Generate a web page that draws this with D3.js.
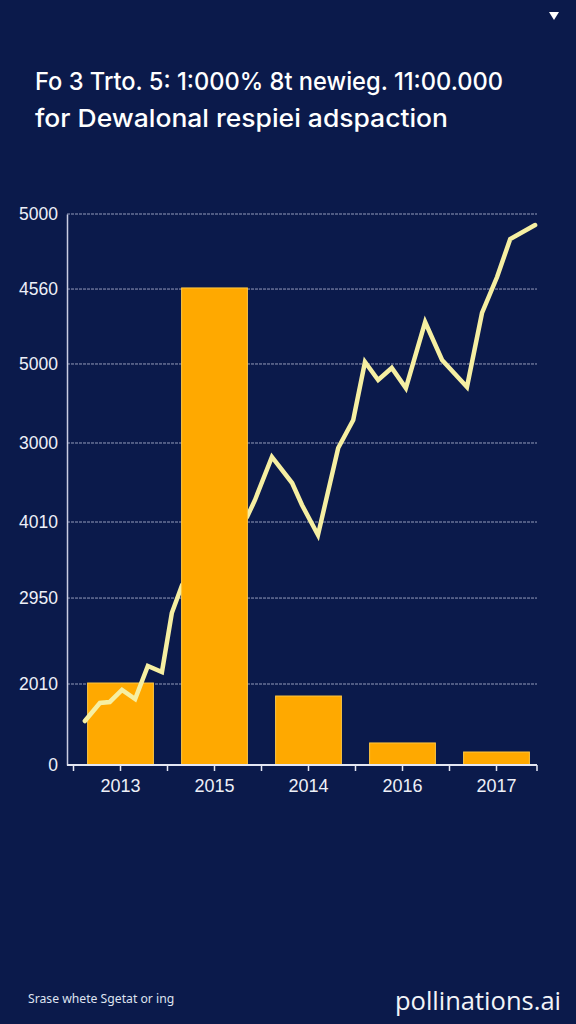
<!DOCTYPE html>
<html>
<head>
<meta charset="utf-8">
<script src="https://cdnjs.cloudflare.com/ajax/libs/d3/7.8.5/d3.min.js"></script>
<style>
  html, body { margin: 0; padding: 0; background: #0b1a4b; }
  #chart { width: 576px; height: 1024px; }
</style>
</head>
<body>
<div id="chart"></div>
<script>
// data
const titleLines = [
  'Fo 3 Trto. 5: 1:000% 8t newieg. 11:00.000',
  'for Dewalonal respiei adspaction'
];
const footerText = 'Srase whete Sgetat or ing';
const brandText = 'pollinations.ai';

const years = ['2013', '2015', '2014', '2016', '2017'];
const barValues = [744, 4329, 626, 200, 118];

// y ticks: the labels do not follow the values, so keep both
const yTickValues = [0, 735, 1515, 2205, 2922, 3639, 4319, 5000];
const yTickLabels = ['0', '2010', '2950', '4010', '3000', '5000', '4560', '5000'];

// line: position along the x axis (0-100) and value
const linePos = [3.8, 7.0, 9.1, 11.7, 14.5, 17.2, 20.2, 22.3, 24.5, 31.5, 38.3, 40.0, 43.6,
  47.9, 50.0, 53.4, 57.7, 60.9, 63.4, 66.2, 69.1, 72.1, 76.2, 79.8, 85.1, 88.3, 91.5, 94.3, 99.6];
const lineValues = [399, 563, 572, 681, 599, 898, 844, 1379, 1633, 1950, 2250, 2405, 2795,
  2559, 2359, 2087, 2877, 3131, 3657, 3494, 3603, 3421, 4020, 3675, 3430, 4102, 4428, 4773, 4900];

const totalWidth = 576;
const totalHeight = 1024;
const margin = { top: 214, left: 67 };
const graphWidth = 470;
const graphHeight = 551;

const svg = d3.select('#chart')
  .append('svg')
  .attr('width', totalWidth)
  .attr('height', totalHeight);

svg.append('rect')
  .attr('width', totalWidth)
  .attr('height', totalHeight)
  .attr('fill', '#0b1a4b');

// small menu triangle, top right
svg.append('path')
  .attr('d', 'M549,12 L559,12 L554,20 Z')
  .attr('fill', '#ffffff');

// title (line widths matched to the picture)
const titleWidths = [468, 413];
svg.append('g')
  .selectAll('text')
  .data(titleLines)
  .enter()
  .append('text')
  .attr('x', 35)
  .attr('y', (d, i) => 90 + i * 37)
  .attr('textLength', (d, i) => titleWidths[i])
  .attr('lengthAdjust', 'spacingAndGlyphs')
  .attr('fill', '#ffffff')
  .style('font-family', 'Inter, "Liberation Sans", Arial, sans-serif')
  .style('font-weight', 500)
  .style('font-size', '24.5px')
  .text(d => d);

const graph = svg.append('g')
  .attr('transform', `translate(${margin.left}, ${margin.top})`);

// scales
const y = d3.scaleLinear()
  .domain([0, 5000])
  .range([graphHeight, 0]);

const x = d3.scaleBand()
  .domain(years)
  .range([6.5, 476.5])
  .paddingInner(0.3)
  .paddingOuter(0.15);

const xLine = d3.scaleLinear()
  .domain([0, 100])
  .range([0, graphWidth]);

// grid lines
graph.append('g')
  .selectAll('line')
  .data(yTickValues.filter(d => d > 0))
  .enter()
  .append('line')
  .attr('x1', 0)
  .attr('x2', graphWidth)
  .attr('y1', d => y(d))
  .attr('y2', d => y(d))
  .attr('stroke', '#aeb3cf')
  .attr('stroke-width', 1)
  .attr('stroke-dasharray', '3,1')
  .attr('opacity', 0.85);

// y axis
const yAxis = d3.axisLeft(y)
  .tickValues(yTickValues)
  .tickFormat((d, i) => yTickLabels[i])
  .tickSize(0)
  .tickPadding(9);

const yAxisGroup = graph.append('g').call(yAxis);
yAxisGroup.select('.domain')
  .attr('stroke', '#c9cde3')
  .attr('stroke-width', 1.5);
yAxisGroup.selectAll('text')
  .attr('fill', '#eef0f8')
  .style('font-family', '"Liberation Sans", Arial, sans-serif')
  .style('font-size', '17.5px');

// bars
const barLayer = graph.append('g');
const rects = barLayer
  .selectAll('rect')
  .data(years.map((d, i) => ({ name: d, value: barValues[i] })))
  .enter()
  .append('rect')
  .attr('x', d => x(d.name))
  .attr('width', x.bandwidth())
  .attr('y', d => y(d.value))
  .attr('height', d => graphHeight - y(d.value))
  .attr('fill', '#ffa900')
  .attr('stroke', '#ffc640')
  .attr('stroke-width', 1);

// line
const line = d3.line()
  .x(d => xLine(d.pos))
  .y(d => y(d.value));

graph.append('path')
  .datum(linePos.map((p, i) => ({ pos: p, value: lineValues[i] })))
  .attr('d', line)
  .attr('fill', 'none')
  .attr('stroke', '#f6efa2')
  .attr('stroke-width', 4.5)
  .attr('stroke-linejoin', 'miter')
  .attr('stroke-linecap', 'round');

// the tall bar sits over the line
const topLayer = graph.append('g');
rects.filter(d => d.value === d3.max(barValues))
  .each(function () { topLayer.node().appendChild(this); });

// x axis
const xAxisGroup = graph.append('g')
  .attr('transform', `translate(0, ${graphHeight})`);

const step = x.step();
const tickXs = [];
years.forEach(d => {
  tickXs.push(x(d) - step * 0.15);
  tickXs.push(x(d) + x.bandwidth() / 2);
});
tickXs.push(graphWidth);

xAxisGroup.append('line')
  .attr('x1', 0)
  .attr('x2', graphWidth)
  .attr('stroke', '#e4e7f3')
  .attr('stroke-width', 2);

xAxisGroup.selectAll('.tick-mark')
  .data(tickXs)
  .enter()
  .append('line')
  .attr('class', 'tick-mark')
  .attr('x1', d => d)
  .attr('x2', d => d)
  .attr('y1', 0)
  .attr('y2', 6)
  .attr('stroke', '#e4e7f3')
  .attr('stroke-width', 1.5);

xAxisGroup.selectAll('.tick-label')
  .data(years)
  .enter()
  .append('text')
  .attr('class', 'tick-label')
  .attr('x', d => x(d) + x.bandwidth() / 2)
  .attr('y', 27)
  .attr('text-anchor', 'middle')
  .attr('fill', '#eef0f8')
  .style('font-family', '"Liberation Sans", Arial, sans-serif')
  .style('font-size', '18px')
  .text(d => d);

// footer
svg.append('text')
  .attr('x', 28)
  .attr('y', 1003)
  .attr('fill', '#dfe3f0')
  .style('font-family', '"Noto Sans", sans-serif')
  .style('font-size', '12.2px')
  .text(footerText);

svg.append('text')
  .attr('x', 561)
  .attr('y', 1010)
  .attr('text-anchor', 'end')
  .attr('fill', '#f2f3f8')
  .style('font-family', '"Open Sans", sans-serif')
  .style('font-size', '25.5px')
  .text(brandText);
</script>
</body>
</html>
